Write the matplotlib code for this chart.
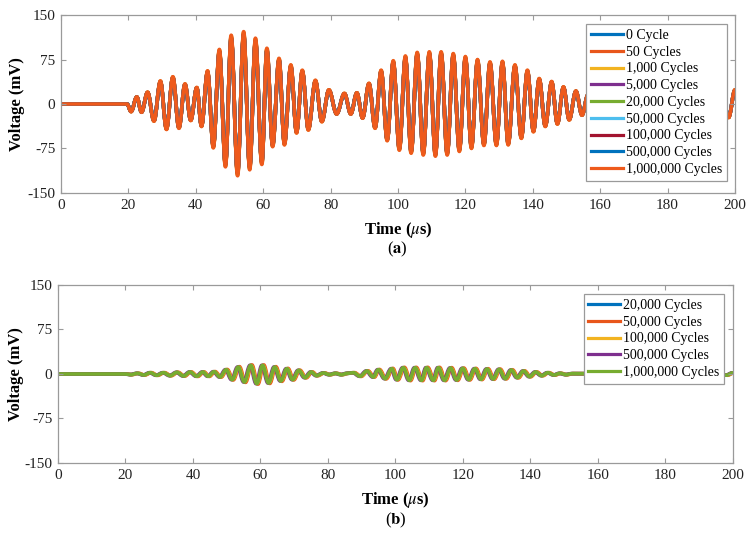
import matplotlib
matplotlib.use("Agg")
import matplotlib.pyplot as plt
from matplotlib.path import Path
from matplotlib.patches import PathPatch
from matplotlib.lines import Line2D

plt.rcParams["font.family"] = ["Liberation Serif", "DejaVu Serif"]
plt.rcParams["mathtext.fontset"] = "stix"

# 图(a)：各循环次数下的接收信号（波峰/波谷读数，单位 µs / mV）
TOP_T = [0.0, 19.6, 20.8, 22.5, 23.9, 25.7, 27.6, 29.5, 31.3, 33.2, 35.0, 36.8, 38.5,
         40.3, 41.7, 43.5, 45.2, 47.0, 48.8, 50.5, 52.4, 54.2, 56.0, 57.7, 59.6,
         61.1, 62.8, 64.7, 66.3, 68.2, 69.9, 71.6, 73.4, 75.5, 77.4, 79.5, 81.8,
         84.1, 86.0, 87.8, 89.5, 91.4, 93.2, 95.0, 96.8, 98.6, 100.4, 102.2, 103.9,
         105.7, 107.5, 109.3, 111.1, 112.8, 114.6, 116.4, 118.2, 120.0, 121.8,
         123.6, 125.5, 127.3, 129.2, 131.0, 132.7, 134.7, 136.6, 138.4, 140.2,
         141.9, 143.7, 145.6, 147.3, 149.1, 150.8, 152.8, 154.6, 156.4, 158.2,
         160.0, 161.8, 163.6, 165.4, 167.2, 169.0, 193.0, 194.4, 196.2, 198.1, 200.0]
TOP_V = [0, 0, -13, 12, -14, 20, -29, 39, -43, 46, -41, 34, -28,
         28, -38, 56, -74, 92, -106, 116, -121, 122, -111, 111, -102,
         94, -72, 77, -69, 66, -49, 57, -44, 40, -30, 24, -17,
         18, -17, 19, -24, 35, -41, 57, -62, 73, -78, 81, -83,
         87, -86, 88, -88, 88, -86, 85, -80, 80, -75,
         75, -70, 71, -70, 72, -69, 66, -58, 57, -47,
         43, -38, 38, -34, 29, -27, 22, -19, 16, -13,
         10, -8, 6, -4, 3, -2, 0, -5, 12, -23, 24]
TOP_LABELS = ["0 Cycle", "50 Cycles", "1,000 Cycles", "5,000 Cycles", "20,000 Cycles",
              "50,000 Cycles", "100,000 Cycles", "500,000 Cycles", "1,000,000 Cycles"]
TOP_COLORS = ["#0072BD", "#E8561B", "#F2B320", "#7E2F8E", "#77AC30",
              "#4DBEEE", "#A2142F", "#0072BD", "#EE5A1C"]
TOP_GAIN = [0.95, 0.98, 0.99, 0.96, 0.97, 0.93, 0.96, 0.95, 1.0]

# 图(b)：差分信号
BOT_T = [0.0, 20.0, 21.5, 23.5, 25.4, 27.3, 29.2, 31.2, 33.2, 35.2, 37.2, 39.1, 41.1,
         42.9, 44.5, 46.2, 48.0, 49.8, 51.6, 53.4, 55.2, 57.1, 58.9, 60.6, 62.4,
         64.2, 66.0, 67.8, 69.5, 71.3, 73.2, 75.0, 76.6, 78.6, 80.4, 82.2, 83.9,
         85.7, 87.5, 89.5, 91.5, 93.4, 94.9, 96.9, 98.9, 100.4, 102.3, 104.1, 105.8,
         107.7, 109.2, 111.2, 112.7, 114.5, 116.3, 118.1, 119.9, 121.7, 123.5,
         125.3, 127.1, 128.9, 130.7, 132.5, 134.3, 136.1, 137.9, 139.7, 141.5,
         143.3, 145.1, 146.9, 148.7, 150.5, 152.3, 196.0, 198.0, 200.0]
BOT_V = [0, 0, -1.1, 1.1, -1.7, 2.2, -2.2, 2.2, -2.8, 2.8, -3.4, 3.4, -3.9,
         3.4, -3.9, 3.9, -5.1, 7.3, -9.6, 11.8, -13.5, 14.6, -16.3, 14.6, -15.2,
         11.8, -11.8, 9.0, -9.6, 6.2, -6.2, 3.4, -2.8, 1.7, -1.1, 1.1, -1.1,
         1.1, 2.2, -3.9, 5.1, -5.1, 7.3, -7.9, 9.0, -9.6, 10.7, -10.7, 10.7,
         -10.7, 10.7, -10.7, 10.7, -10.7, 10.2, -10.2, 9.6, -9.6, 9.0,
         -9.0, 8.5, -8.5, 7.9, -7.9, 6.8, -6.2, 5.1, -4.5, 3.4,
         -2.8, 2.2, -1.7, 1.1, -1.1, 0.6, 0, -2, 2]
BOT_LABELS = ["20,000 Cycles", "50,000 Cycles", "100,000 Cycles", "500,000 Cycles",
              "1,000,000 Cycles"]
BOT_COLORS = ["#0072BD", "#E8561B", "#F2B320", "#7E2F8E", "#77AC30"]
BOT_GAIN = [0.9, 1.05, 0.95, 1.0, 1.0]
BOT_SHIFT = [0.1, 0.35, 0.15, -0.2, 0.0]

LINE_W = 2.6
SPINE_C = "#9a9a9a"


def wave_path(times, volts, gain=1.0, shift=0.0):
    """用三次贝塞尔曲线连接相邻的波峰/波谷，两端切线水平。"""
    ts = [times[0]] + [t + shift for t in times[1:]]
    vs = [v * gain for v in volts]
    verts = [(ts[0], vs[0])]
    codes = [Path.MOVETO]
    k = 0.364
    for i in range(len(ts) - 1):
        dt = ts[i + 1] - ts[i]
        verts += [(ts[i] + k * dt, vs[i]), (ts[i + 1] - k * dt, vs[i + 1]), (ts[i + 1], vs[i + 1])]
        codes += [Path.CURVE4] * 3
    return Path(verts, codes)


def style_axes(ax, ylabel_x):
    ax.set_xlim(0, 200)
    ax.set_ylim(-150, 150)
    ax.set_xticks(range(0, 201, 20))
    ax.set_yticks([-150, -75, 0, 75, 150])
    ax.set_yticklabels(["-150", "-75", "0", "75", "150"])
    for s in ax.spines.values():
        s.set_color(SPINE_C)
        s.set_linewidth(0.9)
    ax.tick_params(direction="in", top=True, right=True, length=3.5, width=0.8,
                   color=SPINE_C, labelsize=11, labelcolor="#222222", pad=4)
    ax.set_xlabel(r"Time ($\mu$s)", fontsize=12, fontweight="bold", labelpad=6)
    ax.set_ylabel("Voltage (mV)", fontsize=12, fontweight="bold")
    ax.yaxis.set_label_coords(ylabel_x, 0.5)


def draw_panel(ax, labels, colors, gains, shifts, times, volts, anchor, ylabel_x):
    handles = []
    for lab, c, g, s in zip(labels, colors, gains, shifts):
        ax.add_patch(PathPatch(wave_path(times, volts, g, s), fill=False, edgecolor=c,
                               lw=LINE_W, joinstyle="round", capstyle="round"))
        handles.append(Line2D([], [], color=c, lw=2.3))
    style_axes(ax, ylabel_x)
    leg = ax.legend(handles, labels, loc="upper right", bbox_to_anchor=anchor,
                    borderaxespad=0, fontsize=10, fancybox=False, framealpha=1,
                    edgecolor=SPINE_C, handlelength=2.3, handletextpad=0.2,
                    labelspacing=0.27, borderpad=0.35)
    leg.get_frame().set_linewidth(0.9)


fig = plt.figure(figsize=(7.52, 5.38), dpi=100)
ax1 = fig.add_axes([0.0811, 0.6413, 0.8963, 0.3308])
ax2 = fig.add_axes([0.0771, 0.1394, 0.8976, 0.3309])

draw_panel(ax1, TOP_LABELS, TOP_COLORS, TOP_GAIN, [0.0] * len(TOP_LABELS),
           TOP_T, TOP_V, (0.988, 0.949), -0.054)
draw_panel(ax2, BOT_LABELS, BOT_COLORS, BOT_GAIN, BOT_SHIFT,
           BOT_T, BOT_V, (0.987, 0.949), -0.051)

fig.text(0.529, 1 - 249 / 538, r"($\mathbf{a}$)", ha="center", va="center", fontsize=12)
fig.text(0.526, 1 - 520 / 538, r"($\mathbf{b}$)", ha="center", va="center", fontsize=12)

fig.savefig("out.png", dpi=100)
